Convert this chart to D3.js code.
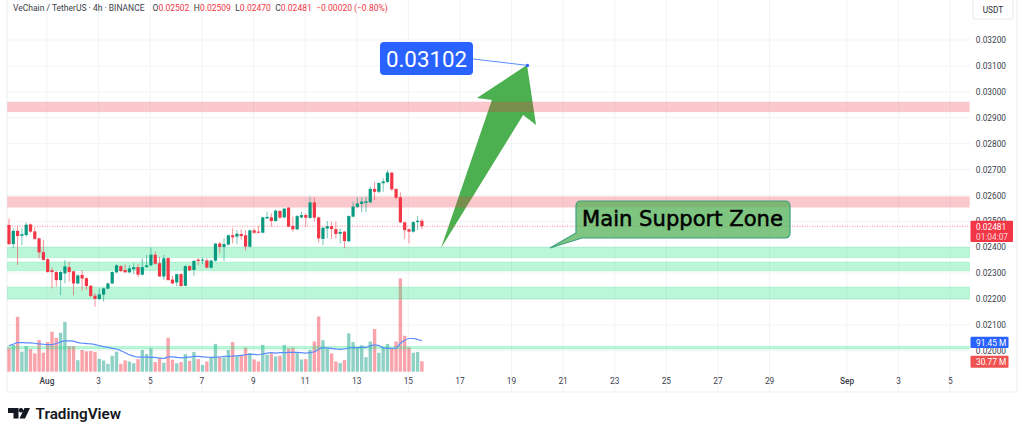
<!DOCTYPE html>
<html>
<head>
<meta charset="utf-8">
<script src="https://cdn.jsdelivr.net/npm/d3@7/dist/d3.min.js"></script>
<style>
  html, body { margin: 0; padding: 0; background: #fff; }
  svg { display: block; }
  text { font-family: Roboto, sans-serif; }
</style>
</head>
<body>
<svg id="chart" width="1024" height="435"></svg>
<script>
// prices in 1/100000 USDT, one entry per 4h candle
const opens = [2486,2412,2463,2444,2447,2488,2461,2434,2381,2354,2311,2304,2273,2299,2323,2307,2260,2293,2280,2251,2213,2200,2217,2240,2260,2303,2327,2312,2303,2315,2323,2294,2323,2330,2371,2338,2287,2358,2275,2264,2296,2251,2327,2312,2352,2348,2349,2321,2348,2414,2401,2410,2446,2441,2451,2446,2402,2465,2460,2456,2511,2515,2501,2540,2515,2553,2482,2469,2515,2524,2513,2573,2515,2432,2472,2481,2470,2452,2460,2423,2518,2555,2567,2571,2573,2625,2614,2647,2652,2688,2625,2593,2496,2469,2460,2497,2502]
const highs = [2511,2473,2479,2473,2496,2492,2477,2437,2428,2357,2322,2308,2309,2351,2344,2307,2295,2312,2284,2254,2222,2241,2244,2263,2307,2334,2330,2333,2331,2338,2335,2357,2370,2399,2383,2363,2370,2360,2289,2296,2299,2330,2330,2351,2357,2360,2357,2353,2415,2421,2434,2448,2473,2466,2469,2466,2469,2473,2482,2518,2537,2531,2546,2544,2550,2554,2518,2524,2537,2531,2595,2593,2518,2479,2501,2499,2499,2473,2463,2523,2576,2593,2593,2595,2634,2653,2650,2666,2698,2689,2627,2612,2499,2473,2500,2520,2509]
const lows = [2408,2396,2331,2408,2441,2456,2428,2357,2348,2302,2241,2248,2215,2260,2267,2214,2257,2232,2235,2206,2170,2196,2190,2237,2258,2299,2304,2302,2299,2296,2284,2291,2322,2327,2333,2286,2273,2271,2258,2250,2248,2250,2308,2289,2331,2335,2318,2318,2344,2376,2347,2407,2415,2412,2428,2387,2399,2451,2454,2454,2509,2479,2499,2510,2511,2477,2460,2466,2511,2479,2510,2499,2418,2408,2434,2432,2434,2415,2396,2420,2515,2550,2535,2535,2571,2582,2608,2614,2647,2618,2585,2493,2432,2415,2456,2466,2470]
const closes = [2412,2463,2443,2450,2487,2460,2432,2380,2351,2304,2304,2273,2304,2326,2304,2260,2291,2279,2250,2212,2200,2218,2241,2260,2304,2330,2308,2303,2318,2323,2294,2323,2330,2371,2336,2287,2357,2273,2260,2296,2250,2327,2311,2347,2347,2352,2321,2348,2414,2401,2412,2446,2438,2452,2443,2402,2465,2456,2457,2515,2517,2501,2541,2514,2549,2479,2469,2520,2524,2514,2573,2514,2434,2475,2481,2470,2451,2459,2424,2520,2557,2569,2576,2577,2625,2614,2648,2654,2688,2623,2591,2496,2466,2460,2497,2502,2481]
// volume in millions
const volumes = [70.8,78.6,162,59,75.7,66.8,54,93.4,56,87.5,118,100,115,147,75.7,75.7,34,64,60,61,58,38,33,23,47,59,23,33,30,25,37,64,52,69,28.5,39,26.5,100,35,25,28.5,52,32,58,37,20,30,42,82,42,42,64,87.5,46,47,71,55,36,30,79,50,54,45,47,79,69,71,55,36,37,64,89,163,93,69,54,30,25.5,34,113,87.5,71,78,43,89,126,56,70,82,69,89,275,106,72,56,58,30.77]
const volumeMa = [77,81,86,86,85,85,84,82,81,80,80,83,88,91,91,90,86,84,83,82,80,77,74,72,69,67,62,56,50,46,43,43,43,42,42,40,39,44,44,42,41,42,43,45,45,44,43,42,43,43,45,45,46,47,48,50,51,51,50,52,55,56,55,56,56,57,57,57,56,55,56,59,66,71,70,69,67,66,67,70,71,71,72,72,76,79,77,71,69,69,70,84,93,98,98,95,91.45]

const firstDay = -0.473 // day of August of the first candle
const candleDays = opens.map((d, i) => firstDay + i / 6)

const tickDays = [1,3,5,7,9,11,13,15,17,19,21,23,25,27,29,32,34,36]
const tickLabels = ['Aug','3','5','7','9','11','13','15','17','19','21','23','25','27','29','Sep','3','5']
const priceTicks = [3200,3100,3000,2900,2800,2700,2600,2500,2400,2300,2200,2100,2000]

// [low, high] of each drawn zone
const redZones = [[2922,2961],[2554,2595]]
const greenZones = [[2360,2400],[2309,2343],[2200,2246],[2007,2017]]

const lastClose = 2481
const targetPrice = 3102
const targetDay = 19.62
const headerLeft = 'VeChain / TetherUS · 4h · BINANCE'
const headerOhlc = [['O','0.02502'],['H','0.02509'],['L','0.02470'],['C','0.02481']]
const headerChange = '−0.00020 (−0.80%)'

// annotations as [day, price]
const arrowPoints = [[16.27,2397],[18.24,2968],[17.66,2976],[19.6,3103],[19.95,2872],[19.45,2910]]
const calloutTip = [20.49,2397]

const svg = d3.select('#chart')
const x = d3.scaleLinear().domain([1, 32]).range([47, 847])
const y = d3.scaleLinear().domain([2000, 3200]).range([350.8, 40])
const vol = d3.scaleLinear().domain([0, 295]).range([371.7, 271.7])

const left = 7, right = 970, bottom = 392
const up = '#089981', down = '#f23645'

// grid
svg.append('g').selectAll('line').data(tickDays).join('line')
  .attr('x1', d => x(d)).attr('x2', d => x(d))
  .attr('y1', 0).attr('y2', bottom)
  .attr('stroke', '#f2f3f5')
svg.append('g').selectAll('line').data(priceTicks).join('line')
  .attr('x1', left).attr('x2', right)
  .attr('y1', d => y(d)).attr('y2', d => y(d))
  .attr('stroke', '#f2f3f5')

// frame
svg.append('path')
  .attr('d', `M${left},0V${bottom}H1017V0`)
  .attr('fill', 'none').attr('stroke', '#eceef1')

// arrow goes under the zones
svg.append('path')
  .attr('d', d3.line().x(d => x(d[0])).y(d => y(d[1]))(arrowPoints) + 'Z')
  .attr('fill', '#4caf50')

// volume
const volGroup = svg.append('g')
volGroup.selectAll('rect').data(volumes).join('rect')
  .attr('x', (d, i) => x(candleDays[i]) - 1.7)
  .attr('width', 3.4)
  .attr('y', d => vol(d))
  .attr('height', d => vol(0) - vol(d))
  .attr('fill', (d, i) => closes[i] >= opens[i] ? 'rgba(8,153,129,.45)' : 'rgba(242,54,69,.45)')

// zones
function zones(list, fill, edge) {
  svg.append('g').selectAll('rect').data(list).join('rect')
    .attr('x', left + 0.5).attr('width', right - left - 1)
    .attr('y', d => y(d[1]))
    .attr('height', d => y(d[0]) - y(d[1]))
    .attr('fill', fill).attr('stroke', edge)
}
zones(redZones, 'rgba(242,54,69,.27)', 'rgba(242,54,69,.06)')
zones(greenZones, 'rgba(30,225,130,.3)', 'rgba(30,225,130,.2)')

// volume MA
svg.append('path')
  .datum(volumeMa)
  .attr('d', d3.line().x((d, i) => x(candleDays[i])).y(d => vol(d)).curve(d3.curveMonotoneX))
  .attr('fill', 'none').attr('stroke', '#5b8cff').attr('stroke-width', 1.2)

// candles
const candle = svg.append('g').selectAll('g').data(opens).join('g')
candle.append('line')
  .attr('x1', (d, i) => x(candleDays[i])).attr('x2', (d, i) => x(candleDays[i]))
  .attr('y1', (d, i) => y(highs[i])).attr('y2', (d, i) => y(lows[i]))
  .attr('stroke', (d, i) => closes[i] >= d ? up : down)
  .attr('stroke-opacity', .55)
candle.append('rect')
  .attr('x', (d, i) => x(candleDays[i]) - 1.6)
  .attr('width', 3.2)
  .attr('y', (d, i) => y(Math.max(d, closes[i])))
  .attr('height', (d, i) => Math.max(1, Math.abs(y(d) - y(closes[i]))))
  .attr('fill', (d, i) => closes[i] >= d ? up : down)

// last price line
svg.append('line')
  .attr('x1', left).attr('x2', right)
  .attr('y1', y(lastClose)).attr('y2', y(lastClose))
  .attr('stroke', down).attr('stroke-opacity', .6).attr('stroke-dasharray', '1 1.5')

// price axis
svg.append('g').selectAll('text').data(priceTicks).join('text')
  .attr('x', 1006).attr('y', d => y(d) + 3.1)
  .attr('text-anchor', 'end')
  .attr('font-size', 8.3).attr('fill', '#3a3e4a')
  .text(d => (d / 100000).toFixed(5))

// time axis
svg.append('g').selectAll('text').data(tickDays).join('text')
  .attr('x', d => x(d)).attr('y', 384)
  .attr('text-anchor', 'middle')
  .attr('font-size', 8.3).attr('fill', '#3a3e4a')
  .attr('font-weight', (d, i) => tickLabels[i] === 'Aug' || tickLabels[i] === 'Sep' ? 500 : 400)
  .text((d, i) => tickLabels[i])

// axis tags
function tag(top, h, w, fill, lines) {
  svg.append('rect').attr('x', right + 0.5).attr('y', top).attr('width', w).attr('height', h)
    .attr('rx', 1).attr('fill', fill)
  lines.forEach((t, i) => {
    svg.append('text').attr('x', right + 6).attr('y', top + 8.8 + i * 10.6)
      .attr('font-size', 8.3).attr('fill', i ? 'rgba(255,255,255,.8)' : '#fff').text(t)
  })
}
tag(220.7, 21.4, 42.5, down, ['0.02481', '01:04:07'])
tag(336.7, 11.4, 38, '#2962ff', ['91.45 M'])
tag(355.7, 12, 38, '#ef5350', ['30.77 M'])

// USDT button
svg.append('rect').attr('x', 973).attr('y', -2).attr('width', 40).attr('height', 21)
  .attr('rx', 2).attr('fill', '#fff').attr('stroke', '#e6e8ec')
svg.append('text').attr('x', 993).attr('y', 13).attr('text-anchor', 'middle')
  .attr('font-size', 8.3).attr('fill', '#2a2e39').text('USDT')

// header
const head = svg.append('text').attr('x', 13).attr('y', 11).attr('font-size', 8.5).attr('fill', '#3a3e4a')
head.append('tspan').text(headerLeft)
headerOhlc.forEach((p, i) => {
  head.append('tspan').attr('dx', i ? 4.5 : 8).text(p[0])
  head.append('tspan').attr('fill', down).text(p[1])
})
head.append('tspan').attr('dx', 4.5).attr('fill', down).text(headerChange)

// target label
const labelX = 380, labelY = 42
svg.append('line')
  .attr('x1', labelX + 93).attr('y1', labelY + 17)
  .attr('x2', x(targetDay)).attr('y2', y(targetPrice))
  .attr('stroke', '#5b8cff').attr('stroke-width', 1)
svg.append('circle').attr('cx', x(targetDay)).attr('cy', y(targetPrice)).attr('r', 1.6).attr('fill', '#2962ff')
svg.append('rect').attr('x', labelX).attr('y', labelY).attr('width', 93).attr('height', 33)
  .attr('rx', 4).attr('fill', '#2962ff')
svg.append('text').attr('x', labelX + 46.5).attr('y', labelY + 24.5)
  .attr('text-anchor', 'middle').attr('font-size', 22.3).attr('fill', '#fff')
  .text((targetPrice / 100000).toFixed(5))

// callout
const bx = 576, by = 201, bw = 214, bh = 37, r = 5
const tipX = x(calloutTip[0]), tipY = y(calloutTip[1])
svg.append('path')
  .attr('d', `M${bx + r},${by}H${bx + bw - r}Q${bx + bw},${by} ${bx + bw},${by + r}V${by + bh - r}Q${bx + bw},${by + bh} ${bx + bw - r},${by + bh}H${bx + 6}L${tipX},${tipY}L${bx},${by + 32}V${by + r}Q${bx},${by} ${bx + r},${by}Z`)
  .attr('fill', 'rgba(76,175,80,.72)').attr('stroke', '#3c9f7f').attr('stroke-width', 1.2)
svg.append('text').attr('x', bx + bw / 2 - 0.5).attr('y', by + 25)
  .attr('text-anchor', 'middle')
  .style('font-family', '"DejaVu Sans", sans-serif').attr('font-size', 21.1).attr('font-weight', 500)
  .attr('stroke', '#000').attr('stroke-width', .5)
  .attr('fill', '#000').text('Main Support Zone')

// TradingView mark
svg.append('path')
  .attr('d', 'M8,408H18.5V418.5H13.5V413H8ZM30,408L25,418.5H19.5L24.5,408ZM21,408a2.3,2.3 0 1 0 .01,0Z')
  .attr('fill', '#131722')
svg.append('text').attr('x', 35.5).attr('y', 418.7)
  .attr('font-size', 15.3).attr('font-weight', 600).attr('fill', '#131722').text('TradingView')
</script>
</body>
</html>
